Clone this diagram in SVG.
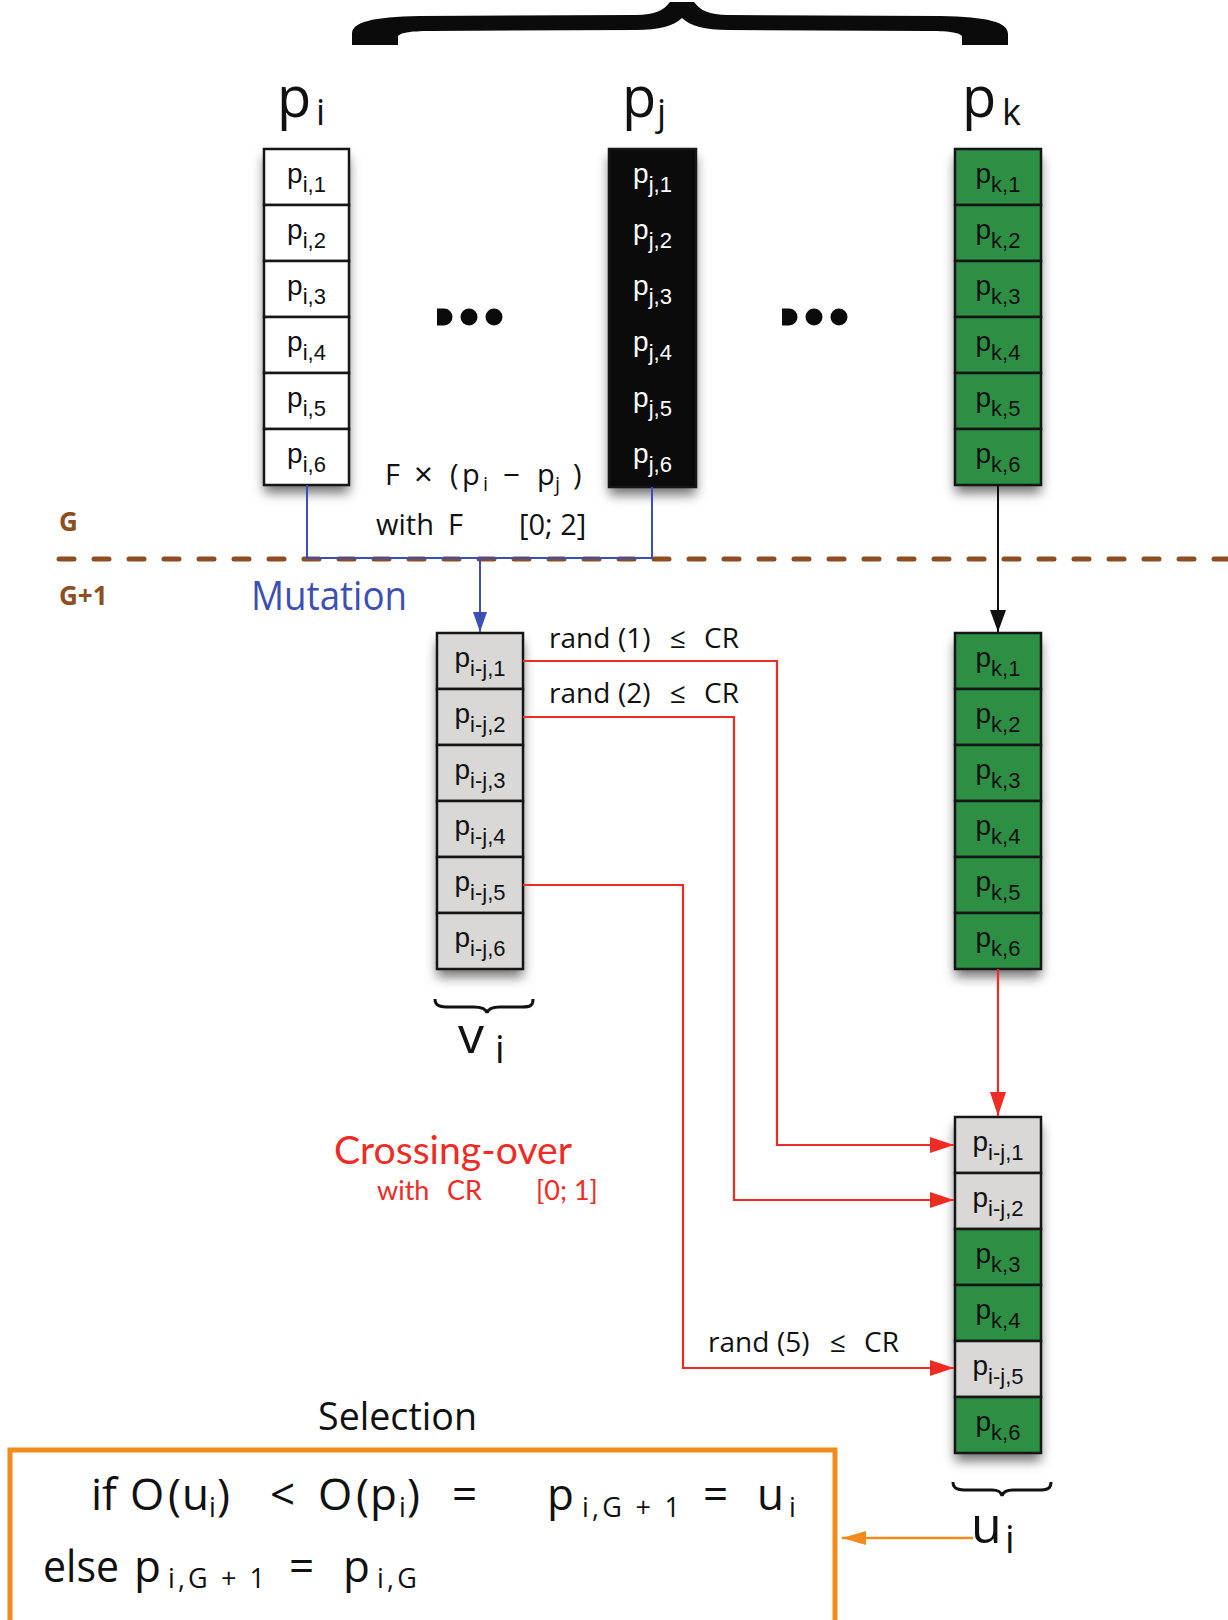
<svg xmlns="http://www.w3.org/2000/svg" width="1228" height="1620" viewBox="0 0 1228 1620">
<defs>
<style>
.bd{stroke:#161616;stroke-width:2.5}
.wf{fill:#ffffff}.gf{fill:#2c8f44}.sf{fill:#d9d8d6}.kf{fill:#0b0b0b}
.ct{font-family:"Liberation Sans",Arial,sans-serif;font-size:28px;text-anchor:middle;fill:#111}
.ct tspan{font-size:22px}
.wt{fill:#ffffff}
.my{font-family:"Open Sans","Noto Sans",sans-serif;fill:#111}
.lt{font-family:Lato,"Open Sans",sans-serif}
.red{fill:#ee2b24}
.rl{fill:none;stroke:#ee2b24;stroke-width:2.2}
.bl{fill:none;stroke:#3c4fb5;stroke-width:2}
.br{font-family:"Open Sans","Noto Sans",sans-serif;font-weight:bold;font-size:26px;fill:#8d4e22}
</style>
<filter id="sh" x="-40%" y="-10%" width="180%" height="130%">
<feDropShadow dx="0" dy="8" stdDeviation="6" flood-color="#000" flood-opacity="0.55"/>
</filter>
<marker id="ar" markerUnits="userSpaceOnUse" markerWidth="24" markerHeight="16" refX="24" refY="8" orient="auto"><path d="M0,0L24,8L0,16Z" fill="#ee2b24"/></marker>
<marker id="ab" markerUnits="userSpaceOnUse" markerWidth="20" markerHeight="14" refX="20" refY="7" orient="auto"><path d="M0,0L20,7L0,14Z" fill="#3c4fb5"/></marker>
<marker id="ak" markerUnits="userSpaceOnUse" markerWidth="22" markerHeight="16" refX="22" refY="8" orient="auto"><path d="M0,0L22,8L0,16Z" fill="#111"/></marker>
<marker id="ao" markerUnits="userSpaceOnUse" markerWidth="24" markerHeight="14" refX="24" refY="7" orient="auto"><path d="M0,0L24,7L0,14Z" fill="#f28a1c"/></marker>
</defs>
<rect width="1228" height="1620" fill="#fff"/>

<g id="top-brace">
<path d="M352,45 L352,34 C352,22 372,17 420,16 L636,15 C655,15 664,10 670,2 L694,2 C700,10 709,15 728,15 L940,16 C988,17 1008,22 1008,34 L1008,45 L962,45 L962,37 C962,33 950,31 930,31 L728,30 C705,30 690,26 682,18 C674,26 659,30 636,30 L430,31 C410,31 398,33 398,37 L398,45 Z" fill="#0b0b0b"/>
</g>

<g id="labels-top" class="my">
<text x="277" y="117" font-size="56">p</text><text x="316" y="125" font-size="36">i</text>
<text x="622" y="117" font-size="56">p</text><text x="657" y="125" font-size="36">j</text>
<text x="962" y="117" font-size="56">p</text><text x="1002" y="125" font-size="36">k</text>
</g>

<g id="ellipsis" fill="#0b0b0b">
<path d="M437,308.5 L444,308.5 A8.5,8.5 0 0 1 444,325.5 L437,325.5 Z"/>
<circle cx="469" cy="317" r="8.5"/><circle cx="494" cy="317" r="8.5"/>
<path d="M782,308.5 L789,308.5 A8.5,8.5 0 0 1 789,325.5 L782,325.5 Z"/>
<circle cx="814" cy="317" r="8.5"/><circle cx="839" cy="317" r="8.5"/>
</g>

<g id="col-pi">
<rect x="264" y="149" width="85" height="336" class="wf" filter="url(#sh)"/>
<rect x="264" y="149" width="85" height="56" class="wf bd"/>
<rect x="264" y="205" width="85" height="56" class="wf bd"/>
<rect x="264" y="261" width="85" height="56" class="wf bd"/>
<rect x="264" y="317" width="85" height="56" class="wf bd"/>
<rect x="264" y="373" width="85" height="56" class="wf bd"/>
<rect x="264" y="429" width="85" height="56" class="wf bd"/>
<text class="ct" x="306.5" y="183">p<tspan dy="9">i,1</tspan></text>
<text class="ct" x="306.5" y="239">p<tspan dy="9">i,2</tspan></text>
<text class="ct" x="306.5" y="295">p<tspan dy="9">i,3</tspan></text>
<text class="ct" x="306.5" y="351">p<tspan dy="9">i,4</tspan></text>
<text class="ct" x="306.5" y="407">p<tspan dy="9">i,5</tspan></text>
<text class="ct" x="306.5" y="463">p<tspan dy="9">i,6</tspan></text>
</g>

<g id="col-pj">
<rect x="609" y="149" width="87" height="338" class="kf" filter="url(#sh)"/>
<rect x="609" y="149" width="87" height="338" class="kf bd"/>
<text class="ct wt" x="652.5" y="183">p<tspan dy="9">j,1</tspan></text>
<text class="ct wt" x="652.5" y="239">p<tspan dy="9">j,2</tspan></text>
<text class="ct wt" x="652.5" y="295">p<tspan dy="9">j,3</tspan></text>
<text class="ct wt" x="652.5" y="351">p<tspan dy="9">j,4</tspan></text>
<text class="ct wt" x="652.5" y="407">p<tspan dy="9">j,5</tspan></text>
<text class="ct wt" x="652.5" y="463">p<tspan dy="9">j,6</tspan></text>
</g>

<g id="col-pk">
<rect x="955" y="149" width="86" height="336" class="gf" filter="url(#sh)"/>
<rect x="955" y="149" width="86" height="56" class="gf bd"/>
<rect x="955" y="205" width="86" height="56" class="gf bd"/>
<rect x="955" y="261" width="86" height="56" class="gf bd"/>
<rect x="955" y="317" width="86" height="56" class="gf bd"/>
<rect x="955" y="373" width="86" height="56" class="gf bd"/>
<rect x="955" y="429" width="86" height="56" class="gf bd"/>
<text class="ct" x="998" y="183">p<tspan dy="9">k,1</tspan></text>
<text class="ct" x="998" y="239">p<tspan dy="9">k,2</tspan></text>
<text class="ct" x="998" y="295">p<tspan dy="9">k,3</tspan></text>
<text class="ct" x="998" y="351">p<tspan dy="9">k,4</tspan></text>
<text class="ct" x="998" y="407">p<tspan dy="9">k,5</tspan></text>
<text class="ct" x="998" y="463">p<tspan dy="9">k,6</tspan></text>
</g>

<g id="generation">
<text class="br" x="59" y="531">G</text>
<text class="br" x="59" y="605">G+1</text>
<line x1="59" y1="559" x2="1228" y2="559" stroke="#8d4e22" stroke-width="5" stroke-dasharray="15 20" stroke-linecap="round"/>
</g>

<g id="mutation-label" class="my">
<text y="485" font-size="29"><tspan x="385">F</tspan><tspan x="414" y="486" font-size="33">×</tspan><tspan x="450" y="485">(</tspan><tspan x="462">p</tspan><tspan x="483" y="491" font-size="20">i</tspan><tspan x="503" y="485" textLength="17" lengthAdjust="spacingAndGlyphs">−</tspan><tspan x="537">p</tspan><tspan x="555" y="491" font-size="20">j</tspan><tspan x="573" y="485">)</tspan></text>
<text y="535" font-size="29"><tspan x="376">with</tspan><tspan x="448">F</tspan><tspan x="519">[0; 2]</tspan></text>
<text x="251" y="610" font-size="40" textLength="156" lengthAdjust="spacingAndGlyphs" fill="#3c4fb5">Mutation</text>
</g>

<g id="col-vi">
<rect x="437" y="633" width="86" height="336" class="sf" filter="url(#sh)"/>
<rect x="437" y="633" width="86" height="56" class="sf bd"/>
<rect x="437" y="689" width="86" height="56" class="sf bd"/>
<rect x="437" y="745" width="86" height="56" class="sf bd"/>
<rect x="437" y="801" width="86" height="56" class="sf bd"/>
<rect x="437" y="857" width="86" height="56" class="sf bd"/>
<rect x="437" y="913" width="86" height="56" class="sf bd"/>
<text class="ct" x="480" y="667">p<tspan dy="9">i-j,1</tspan></text>
<text class="ct" x="480" y="723">p<tspan dy="9">i-j,2</tspan></text>
<text class="ct" x="480" y="779">p<tspan dy="9">i-j,3</tspan></text>
<text class="ct" x="480" y="835">p<tspan dy="9">i-j,4</tspan></text>
<text class="ct" x="480" y="891">p<tspan dy="9">i-j,5</tspan></text>
<text class="ct" x="480" y="947">p<tspan dy="9">i-j,6</tspan></text>
</g>

<g id="vi-label">
<path d="M435,999 C435,1006 440,1007 450,1007 L474,1007 C482,1007 486,1009 487,1013 C488,1009 492,1007 500,1007 L522,1007 C530,1007 533,1006 533,999" fill="none" stroke="#111" stroke-width="3"/>
<text class="my" x="458" y="1053" font-size="52">v</text><text class="my" x="495" y="1063" font-size="38">i</text>
</g>

<g id="col-pk2">
<rect x="955" y="633" width="86" height="336" class="gf" filter="url(#sh)"/>
<rect x="955" y="633" width="86" height="56" class="gf bd"/>
<rect x="955" y="689" width="86" height="56" class="gf bd"/>
<rect x="955" y="745" width="86" height="56" class="gf bd"/>
<rect x="955" y="801" width="86" height="56" class="gf bd"/>
<rect x="955" y="857" width="86" height="56" class="gf bd"/>
<rect x="955" y="913" width="86" height="56" class="gf bd"/>
<text class="ct" x="998" y="667">p<tspan dy="9">k,1</tspan></text>
<text class="ct" x="998" y="723">p<tspan dy="9">k,2</tspan></text>
<text class="ct" x="998" y="779">p<tspan dy="9">k,3</tspan></text>
<text class="ct" x="998" y="835">p<tspan dy="9">k,4</tspan></text>
<text class="ct" x="998" y="891">p<tspan dy="9">k,5</tspan></text>
<text class="ct" x="998" y="947">p<tspan dy="9">k,6</tspan></text>
</g>

<g id="col-ui">
<rect x="955" y="1117" width="86" height="336" class="gf" filter="url(#sh)"/>
<rect x="955" y="1117" width="86" height="56" class="sf bd"/>
<rect x="955" y="1173" width="86" height="56" class="sf bd"/>
<rect x="955" y="1229" width="86" height="56" class="gf bd"/>
<rect x="955" y="1285" width="86" height="56" class="gf bd"/>
<rect x="955" y="1341" width="86" height="56" class="sf bd"/>
<rect x="955" y="1397" width="86" height="56" class="gf bd"/>
<text class="ct" x="998" y="1151">p<tspan dy="9">i-j,1</tspan></text>
<text class="ct" x="998" y="1207">p<tspan dy="9">i-j,2</tspan></text>
<text class="ct" x="998" y="1263">p<tspan dy="9">k,3</tspan></text>
<text class="ct" x="998" y="1319">p<tspan dy="9">k,4</tspan></text>
<text class="ct" x="998" y="1375">p<tspan dy="9">i-j,5</tspan></text>
<text class="ct" x="998" y="1431">p<tspan dy="9">k,6</tspan></text>
</g>

<g id="ui-label">
<path d="M953,1482 C953,1489 958,1490 968,1490 L992,1490 C999,1490 1001,1492 1002,1496 C1003,1492 1006,1490 1013,1490 L1038,1490 C1047,1490 1051,1489 1051,1482" fill="none" stroke="#111" stroke-width="3"/>
<text class="my" x="971" y="1543" font-size="50">u</text><text class="my" x="1005" y="1553" font-size="38">i</text>
</g>

<g id="crossover-labels" class="my">
<text y="648" font-size="28"><tspan x="549">rand</tspan><tspan x="618">(1)</tspan><tspan x="670">≤</tspan><tspan x="704">CR</tspan></text>
<text y="703" font-size="28"><tspan x="549">rand</tspan><tspan x="618">(2)</tspan><tspan x="670">≤</tspan><tspan x="704">CR</tspan></text>
<text y="1352" font-size="28"><tspan x="708">rand</tspan><tspan x="777">(5)</tspan><tspan x="830">≤</tspan><tspan x="864">CR</tspan></text>
<text class="red lt" x="334" y="1164" font-size="38" textLength="238" lengthAdjust="spacingAndGlyphs">Crossing-over</text>
<text class="red lt" y="1200" font-size="27"><tspan x="377">with</tspan><tspan x="447">CR</tspan><tspan x="536">[0; 1]</tspan></text>
</g>

<g id="connectors">
<polyline class="bl" points="307,485 307,558 652,558 652,487"/>
<line class="bl" x1="480" y1="558" x2="480" y2="632" marker-end="url(#ab)"/>
<line x1="998" y1="485" x2="998" y2="632" stroke="#111" stroke-width="2" marker-end="url(#ak)"/>
<polyline class="rl" points="523,661 777,661 777,1145 954,1145" marker-end="url(#ar)"/>
<polyline class="rl" points="523,717 734,717 734,1200 954,1200" marker-end="url(#ar)"/>
<polyline class="rl" points="523,885 683,885 683,1368 954,1368" marker-end="url(#ar)"/>
<line class="rl" x1="998" y1="969" x2="998" y2="1116" marker-end="url(#ar)"/>
<line x1="973" y1="1538" x2="842" y2="1538" stroke="#f28a1c" stroke-width="2.5" marker-end="url(#ao)"/>
</g>

<g id="selection">
<text class="my" x="318" y="1430" font-size="38" textLength="159" lengthAdjust="spacingAndGlyphs">Selection</text>
<rect x="10" y="1450" width="825" height="200" fill="none" stroke="#f28a1c" stroke-width="5"/>
<text class="my" font-size="44">
<tspan x="91" y="1510">if</tspan>
<tspan x="130" y="1510">O</tspan><tspan x="168" y="1510">(</tspan><tspan x="182" y="1510">u</tspan><tspan x="209" y="1517" font-size="27">i</tspan><tspan x="217" y="1510">)</tspan>
<tspan x="270" y="1510">&lt;</tspan>
<tspan x="318" y="1510">O</tspan><tspan x="356" y="1510">(</tspan><tspan x="370" y="1510">p</tspan><tspan x="399" y="1517" font-size="27">i</tspan><tspan x="407" y="1510">)</tspan>
<tspan x="452" y="1510">=</tspan>
<tspan x="547" y="1510">p</tspan><tspan x="582" y="1517" font-size="27" textLength="98">i,G + 1</tspan>
<tspan x="703" y="1510">=</tspan>
<tspan x="757" y="1510">u</tspan><tspan x="789" y="1517" font-size="27">i</tspan>
</text>
<text class="my" font-size="44">
<tspan x="43" y="1582" textLength="76" lengthAdjust="spacingAndGlyphs">else</tspan>
<tspan x="134" y="1582">p</tspan><tspan x="168" y="1588" font-size="27" textLength="97">i,G + 1</tspan>
<tspan x="289" y="1582">=</tspan>
<tspan x="343" y="1582">p</tspan><tspan x="377" y="1588" font-size="27" textLength="40">i,G</tspan>
</text>
</g>
</svg>
